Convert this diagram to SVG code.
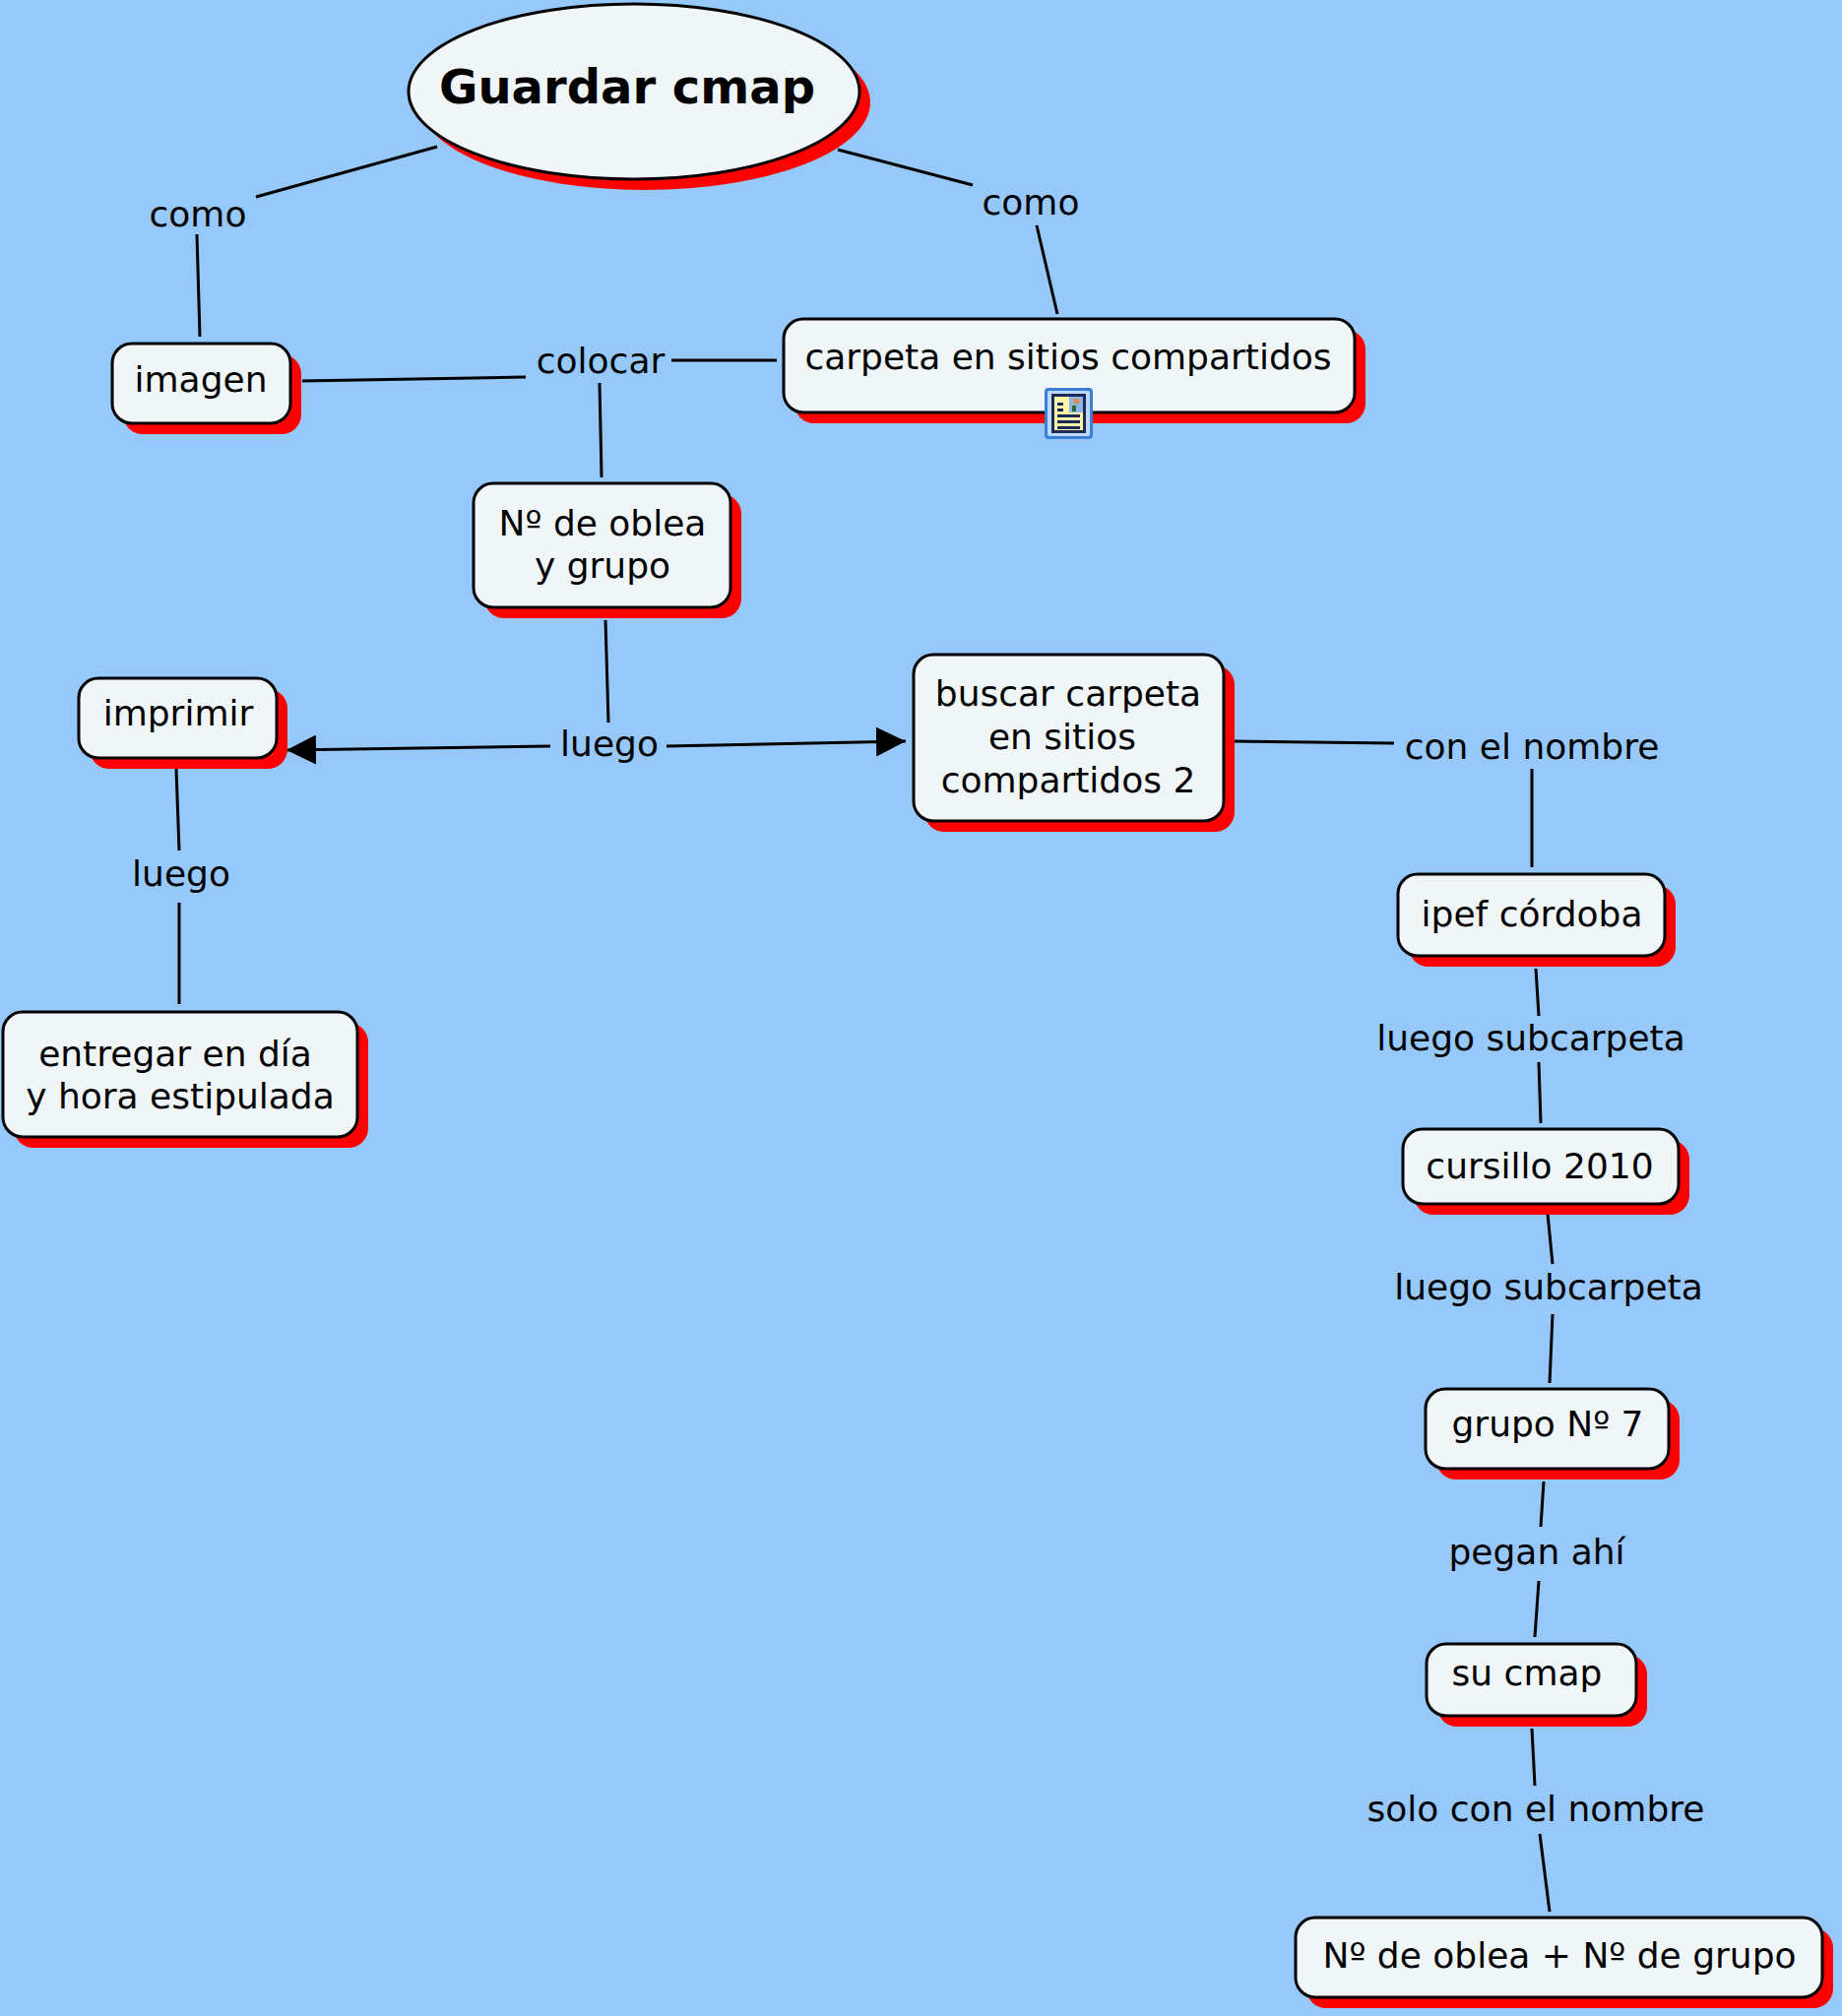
<svg xmlns="http://www.w3.org/2000/svg" width="1871" height="2048" viewBox="0 0 1871 2048">
<defs>
<style>
.bg{fill:#96C8FA}
.sh{fill:#FF0000}
.nd{fill:#F0F6F8;stroke:#000;stroke-width:3}
.t{font-family:"DejaVu Sans","Liberation Sans",sans-serif;font-size:36px;fill:#000;text-anchor:middle}
.tb{font-family:"DejaVu Sans","Liberation Sans",sans-serif;font-size:48px;font-weight:bold;fill:#000;text-anchor:middle}
.ln{stroke:#000;stroke-width:3;fill:none}
</style>
<marker id="arr" viewBox="0 0 30 30" refX="30" refY="15" markerWidth="30" markerHeight="30" markerUnits="userSpaceOnUse" orient="auto">
<path d="M0,0 L30,15 L0,30 Z" fill="#000"/>
</marker>
</defs>
<rect class="bg" x="0" y="0" width="1871" height="2048"/>
<g id="connectors">
<line class="ln" x1="444" y1="149" x2="260" y2="200"/>
<line class="ln" x1="200" y1="238" x2="203" y2="342"/>
<line class="ln" x1="851" y1="152" x2="988" y2="188"/>
<line class="ln" x1="1053" y1="229" x2="1074" y2="319"/>
<line class="ln" x1="307" y1="387" x2="534" y2="383"/>
<line class="ln" x1="682" y1="366" x2="789" y2="366"/>
<line class="ln" x1="609" y1="389" x2="611" y2="485"/>
<line class="ln" x1="615" y1="630" x2="618" y2="734"/>
<line class="ln" x1="559" y1="758" x2="291" y2="762" marker-end="url(#arr)"/>
<line class="ln" x1="677" y1="758" x2="920" y2="753" marker-end="url(#arr)"/>
<line class="ln" x1="179" y1="781" x2="182" y2="864"/>
<line class="ln" x1="182" y1="917" x2="182" y2="1020"/>
<line class="ln" x1="1254" y1="753" x2="1416" y2="755"/>
<line class="ln" x1="1556" y1="781" x2="1556" y2="881"/>
<line class="ln" x1="1560" y1="984" x2="1563" y2="1032"/>
<line class="ln" x1="1563" y1="1079" x2="1565" y2="1141"/>
<line class="ln" x1="1572" y1="1233" x2="1577" y2="1284"/>
<line class="ln" x1="1577" y1="1335" x2="1574" y2="1405"/>
<line class="ln" x1="1568" y1="1505" x2="1565" y2="1551"/>
<line class="ln" x1="1563" y1="1606" x2="1559" y2="1663"/>
<line class="ln" x1="1556" y1="1756" x2="1559" y2="1814"/>
<line class="ln" x1="1564" y1="1863" x2="1574" y2="1942"/>
</g>
<g id="labels">
<text class="t" x="201" y="230">como</text>
<text class="t" x="1047" y="218">como</text>
<text class="t" x="610" y="379">colocar</text>
<text class="t" x="619" y="768">luego</text>
<text class="t" x="184" y="900">luego</text>
<text class="t" x="1556" y="771">con el nombre</text>
<text class="t" x="1555" y="1067">luego subcarpeta</text>
<text class="t" x="1573" y="1320">luego subcarpeta</text>
<text class="t" x="1561" y="1589">pegan ahí</text>
<text class="t" x="1560" y="1850">solo con el nombre</text>
</g>
<g id="n-guardar">
<ellipse class="sh" cx="655" cy="104" rx="229" ry="89"/>
<ellipse class="nd" cx="644" cy="93" rx="229" ry="89"/>
<text class="tb" x="637" y="105">Guardar cmap</text>
</g>
<g id="n-imagen">
<rect class="sh" x="125" y="360" width="181" height="81" rx="20"/>
<rect class="nd" x="114" y="349" width="181" height="81" rx="20"/>
<text class="t" x="204" y="398">imagen</text>
</g>
<g id="n-carpeta">
<rect class="sh" x="807" y="335" width="580" height="95" rx="20"/>
<rect class="nd" x="796" y="324" width="580" height="95" rx="20"/>
<text class="t" x="1085" y="375">carpeta en sitios compartidos</text>
<g id="icon">
<rect x="1061" y="394" width="49" height="52" rx="4" fill="#3A7FD8"/>
<rect x="1064" y="397" width="43" height="46" rx="2" fill="#BFD8F8"/>
<rect x="1068" y="400" width="35" height="40" fill="#1C2A5A"/>
<rect x="1071" y="403" width="29" height="34" fill="#FFF7A8"/>
<rect x="1086" y="403" width="14" height="16" fill="#8FB4E8"/>
<rect x="1091" y="405" width="5" height="5" fill="#F08A3C"/>
<rect x="1089" y="412" width="4" height="6" fill="#2F6B2F"/>
<rect x="1074" y="409" width="6" height="3" fill="#1C2A5A"/>
<rect x="1074" y="415" width="6" height="3" fill="#1C2A5A"/>
<rect x="1074" y="421" width="23" height="3" fill="#1C2A5A"/>
<rect x="1074" y="427" width="23" height="3" fill="#1C2A5A"/>
<rect x="1074" y="433" width="23" height="3" fill="#1C2A5A"/>
</g>
</g>
<g id="n-oblea">
<rect class="sh" x="492" y="502" width="261" height="126" rx="20"/>
<rect class="nd" x="481" y="491" width="261" height="126" rx="20"/>
<text class="t" x="612" y="544">Nº de oblea</text>
<text class="t" x="612" y="587">y grupo</text>
</g>
<g id="n-imprimir">
<rect class="sh" x="91" y="700" width="201" height="81" rx="20"/>
<rect class="nd" x="80" y="689" width="201" height="81" rx="20"/>
<text class="t" x="181" y="737">imprimir</text>
</g>
<g id="n-buscar">
<rect class="sh" x="939" y="676" width="315" height="169" rx="20"/>
<rect class="nd" x="928" y="665" width="315" height="169" rx="20"/>
<text class="t" x="1085" y="717">buscar carpeta</text>
<text class="t" x="1079" y="761">en sitios</text>
<text class="t" x="1085" y="805">compartidos 2</text>
</g>
<g id="n-entregar">
<rect class="sh" x="14" y="1039" width="360" height="127" rx="20"/>
<rect class="nd" x="3" y="1028" width="360" height="127" rx="20"/>
<text class="t" x="178" y="1083">entregar en día</text>
<text class="t" x="183" y="1126">y hora estipulada</text>
</g>
<g id="n-ipef">
<rect class="sh" x="1431" y="899" width="271" height="83" rx="20"/>
<rect class="nd" x="1420" y="888" width="271" height="83" rx="20"/>
<text class="t" x="1556" y="941">ipef córdoba</text>
</g>
<g id="n-cursillo">
<rect class="sh" x="1436" y="1158" width="280" height="76" rx="20"/>
<rect class="nd" x="1425" y="1147" width="280" height="76" rx="20"/>
<text class="t" x="1564" y="1197">cursillo 2010</text>
</g>
<g id="n-grupo">
<rect class="sh" x="1459" y="1422" width="247" height="81" rx="20"/>
<rect class="nd" x="1448" y="1411" width="247" height="81" rx="20"/>
<text class="t" x="1572" y="1459">grupo Nº 7</text>
</g>
<g id="n-sucmap">
<rect class="sh" x="1460" y="1681" width="213" height="73" rx="20"/>
<rect class="nd" x="1449" y="1670" width="213" height="73" rx="20"/>
<text class="t" x="1551" y="1712">su cmap</text>
</g>
<g id="n-final">
<rect class="sh" x="1327" y="1959" width="535" height="81" rx="20"/>
<rect class="nd" x="1316" y="1948" width="535" height="81" rx="20"/>
<text class="t" x="1584" y="1999">Nº de oblea + Nº de grupo</text>
</g>
</svg>
